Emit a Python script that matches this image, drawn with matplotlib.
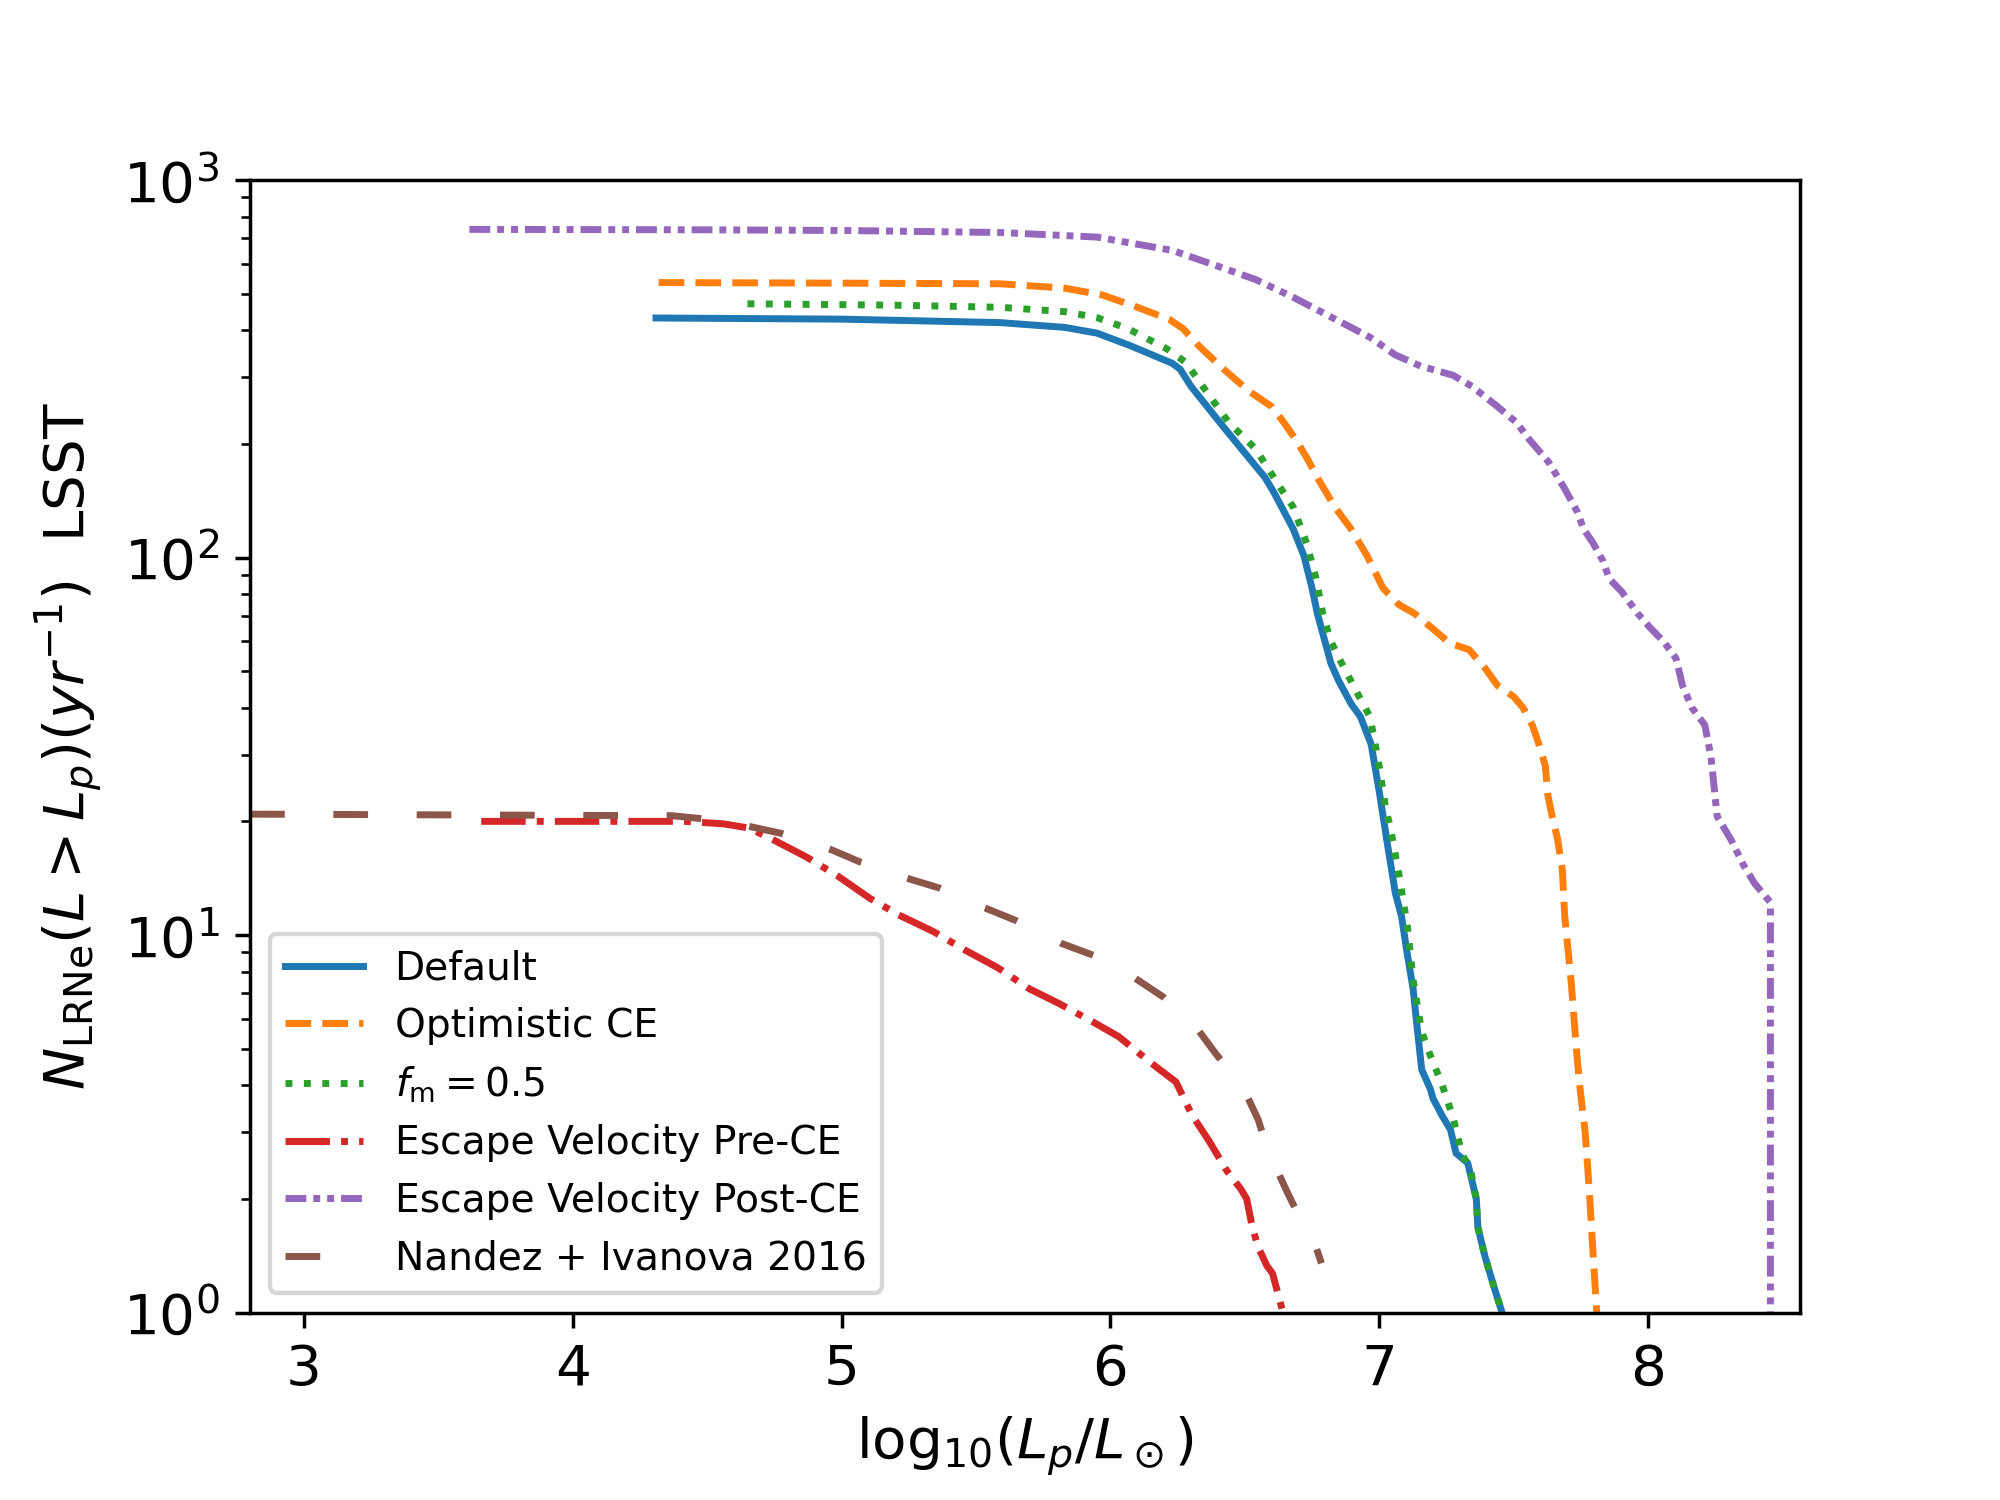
import matplotlib
matplotlib.use('Agg')
import matplotlib.pyplot as plt

# cumulative LRNe rates seen by LSST
default_x = [4.31, 5.0, 5.59, 5.83, 5.95, 6.07, 6.23, 6.26, 6.30, 6.42, 6.575, 6.61, 6.68, 6.72,
             6.75, 6.77, 6.82, 6.85, 6.895, 6.93, 6.97, 7.00, 7.03, 7.06, 7.083, 7.105, 7.126,
             7.137, 7.158, 7.19, 7.20, 7.233, 7.265, 7.286, 7.329, 7.34, 7.361, 7.367, 7.393,
             7.425, 7.457]
default_y = [431, 428, 419, 407, 393, 365, 327, 315, 284, 222, 163, 148, 119, 101,
             83, 71, 52.5, 47, 41, 37.9, 32, 24, 17.5, 12.9, 11.2, 8.84, 7.2,
             6.05, 4.40, 3.91, 3.69, 3.33, 3.05, 2.64, 2.49, 2.31, 2.0, 1.68, 1.41,
             1.18, 1.0]

optimistic_x = [4.32, 5.0, 5.59, 5.83, 5.97, 6.09, 6.22, 6.27, 6.33, 6.42, 6.515, 6.60, 6.645,
                6.69, 6.73, 6.776, 6.835, 6.895, 6.955, 7.014, 7.073, 7.132, 7.203, 7.262,
                7.334, 7.393, 7.44, 7.50, 7.535, 7.57, 7.594, 7.618, 7.627, 7.642, 7.663,
                7.681, 7.69, 7.713, 7.734, 7.745, 7.766, 7.781, 7.794, 7.809]
optimistic_y = [535, 533, 531, 517, 496, 463, 427, 404, 363, 316, 276, 251, 228,
                205, 184, 160, 136, 119, 101, 83, 75, 71, 64.4, 59.3,
                57, 51, 45.8, 42.8, 40, 35.9, 32, 28, 23.5, 20.8, 18.0,
                14.9, 11.2, 7.64, 4.93, 4.03, 3.0, 2.12, 1.49, 1.0]

fm_x = [4.65, 5.2, 5.59, 5.83, 5.95, 6.065, 6.21, 6.28, 6.35, 6.44, 6.54, 6.635, 6.68, 6.73,
        6.765, 6.79, 6.82, 6.86, 6.93, 6.966, 7.00, 7.025, 7.04, 7.073, 7.105, 7.126, 7.158,
        7.19, 7.233, 7.275, 7.307, 7.34, 7.361, 7.367, 7.393, 7.425, 7.457]
fm_y = [470, 466, 460, 448, 432, 404, 357, 329, 280, 228, 194, 152, 136, 109,
        88, 71, 60, 52.5, 42.2, 37.8, 28, 21.4, 19.5, 14.5, 10.5, 7.6, 5.54,
        4.8, 4.03, 3.28, 2.64, 2.38, 2.0, 1.68, 1.41, 1.18, 1.0]

pre_x = [3.66, 4.419, 4.561, 4.656, 4.751, 4.869, 4.988, 5.106, 5.213, 5.343, 5.462, 5.58,
         5.699, 5.806, 5.936, 6.031, 6.15, 6.244, 6.304, 6.368, 6.432, 6.486, 6.507, 6.528,
         6.55, 6.582, 6.603, 6.625, 6.642]
pre_y = [20.0, 20.0, 19.7, 19.2, 17.8, 16.1, 14.3, 12.5, 11.3, 10.2, 9.1, 8.2,
         7.2, 6.6, 5.88, 5.38, 4.59, 4.08, 3.33, 2.84, 2.38, 2.12, 2.0, 1.68,
         1.49, 1.33, 1.27, 1.11, 1.0]

post_x = [3.616, 4.5, 5.0, 5.59, 5.95, 6.23, 6.40, 6.54, 6.68, 6.825, 6.966, 7.06, 7.156,
          7.274, 7.345, 7.44, 7.51, 7.559, 7.63, 7.69, 7.737, 7.76, 7.796, 7.832, 7.855,
          7.903, 7.962, 8.009, 8.057, 8.104, 8.128, 8.163, 8.211, 8.234, 8.246, 8.257, 8.31,
          8.353, 8.396, 8.455, 8.455]
post_y = [740, 738, 735, 726, 706, 651, 591, 545, 489, 432, 383, 344, 321,
          304, 284, 251, 228, 205, 179, 152, 132, 119, 109, 98, 88,
          81, 71, 65, 60, 54, 45.8, 40, 36, 29.6, 24.5, 20.6, 17.8,
          15.4, 13.7, 12.2, 1.0]

nandez_x = [2.80, 4.37, 4.49, 4.656, 4.774, 4.964, 5.07, 5.249, 5.367, 5.533, 5.652, 5.818,
            5.936, 6.09, 6.197, 6.327, 6.39, 6.496, 6.55, 6.603, 6.625, 6.657, 6.731, 6.753,
            6.785]
nandez_y = [20.9, 20.7, 20.3, 19.4, 18.6, 16.8, 15.6, 14.1, 13.3, 11.8, 10.9, 9.5,
            8.84, 7.7, 6.85, 5.6, 4.87, 3.91, 3.24, 2.45, 2.34, 2.09, 1.63, 1.58,
            1.35]

labels = ['Default', 'Optimistic CE', r'$f_{\rm m}=0.5$', 'Escape Velocity Pre-CE',
          'Escape Velocity Post-CE', 'Nandez + Ivanova 2016']

plt.rcParams['font.family'] = ['DejaVu Sans']
plt.rcParams['font.size'] = 13

fig = plt.figure(figsize=(6.4, 4.8), dpi=312.5)
ax = fig.add_subplot(111)
fig.subplots_adjust(left=0.125, right=0.9, top=0.88, bottom=0.125)

lw = 1.6
ax.plot(default_x, default_y, color='C0', lw=lw, ls='-', label=labels[0])
ax.plot(optimistic_x, optimistic_y, color='C1', lw=lw, ls='--', label=labels[1])
ax.plot(fm_x, fm_y, color='C2', lw=lw, ls=':', label=labels[2])
ax.plot(pre_x, pre_y, color='C3', lw=lw, ls='-.', label=labels[3])
ax.plot(post_x, post_y, color='C4', lw=lw, ls=(0, (3, 1, 1, 1, 1, 1)), label=labels[4])
ax.plot(nandez_x, nandez_y, color='C5', lw=lw, ls=(0, (5, 7)), label=labels[5])

ax.set_yscale('log')
ax.set_ylim(1, 1000)
ax.set_xlim(2.80, 8.565)

ax.set_xlabel(r'$\mathrm{log}_{10}(L_p/L_\odot)$', fontsize=13)
ax.set_ylabel(r'$N_{\rm LRNe}(L>L_p)(yr^{-1})$  LSST', fontsize=13)
ax.tick_params(labelsize=13)

ax.legend(loc='lower left', fontsize=9)

fig.savefig('out.png', dpi=312.5)
